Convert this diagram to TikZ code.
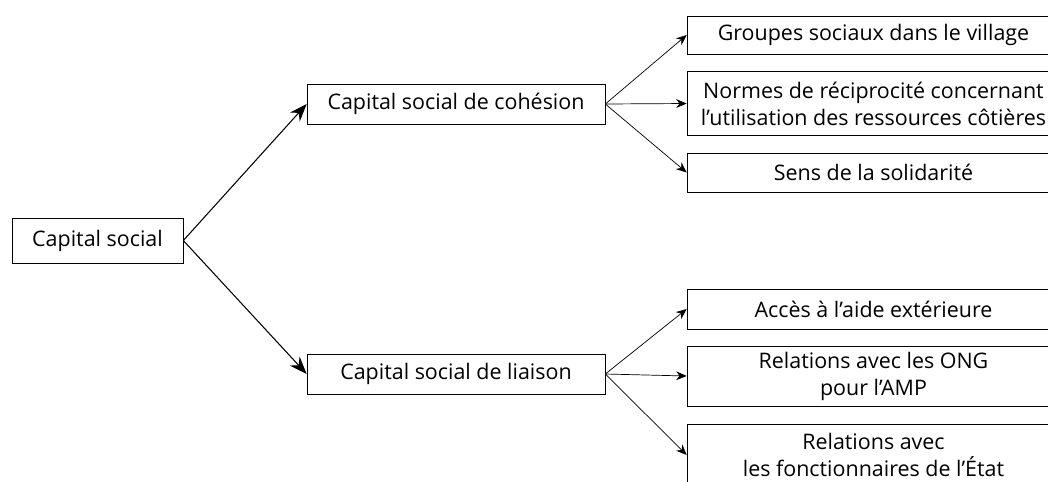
\documentclass[tikz,border=0pt]{standalone}
\usepackage{fontspec}
\setmainfont{Open Sans}
\usetikzlibrary{arrows.meta}
\begin{document}
\begin{tikzpicture}[x=0.02cm, y=-0.02cm,
  box/.style={draw, thin, inner sep=0pt, align=center, font=\fontsize{12.2}{15.3}\selectfont},
  mainarrow/.style={-{Stealth[length=10pt, width=7.5pt]}, semithick},
  subarrow/.style={-{Stealth[length=6pt, width=5pt]}, thin}]
  \clip (0,0) rectangle (1048,481);
  \node[box, minimum width=3.42cm, minimum height=0.90cm] (cs) at (97.5,240.5) {Capital social};
  \node[box, minimum width=5.96cm, minimum height=0.80cm] (coh) at (456,104) {Capital social de cohésion};
  \node[box, minimum width=5.96cm, minimum height=0.80cm] (lia) at (456,374) {Capital social de liaison};
  \node[box, minimum width=7.46cm, minimum height=0.76cm] (grp) at (873.5,35) {Groupes sociaux dans le village};
  \node[box, minimum width=7.46cm, minimum height=1.28cm] (nor) at (873.5,103.5) {Normes de réciprocité concernant\\l’utilisation des ressources côtières};
  \node[box, minimum width=7.46cm, minimum height=0.78cm] (sol) at (873.5,172.5) {Sens de la solidarité};
  \node[box, minimum width=7.46cm, minimum height=0.80cm] (acc) at (873.5,309) {Accès à l’aide extérieure};
  \node[box, minimum width=7.46cm, minimum height=1.20cm] (ong) at (873.5,376) {Relations avec les ONG\\pour l’AMP};
  \node[box, minimum width=7.46cm, minimum height=1.24cm] (eta) at (873.5,455) {Relations avec\\les fonctionnaires de l’État};
  \draw[mainarrow] (cs.east) -- (coh.west);
  \draw[mainarrow] (cs.east) -- (lia.west);
  \draw[subarrow] (coh.east) -- (grp.west);
  \draw[subarrow] (coh.east) -- (nor.west);
  \draw[subarrow] (coh.east) -- (sol.west);
  \draw[subarrow] (lia.east) -- (acc.west);
  \draw[subarrow] (lia.east) -- (ong.west);
  \draw[subarrow] (lia.east) -- (eta.west);
\end{tikzpicture}
\end{document}
